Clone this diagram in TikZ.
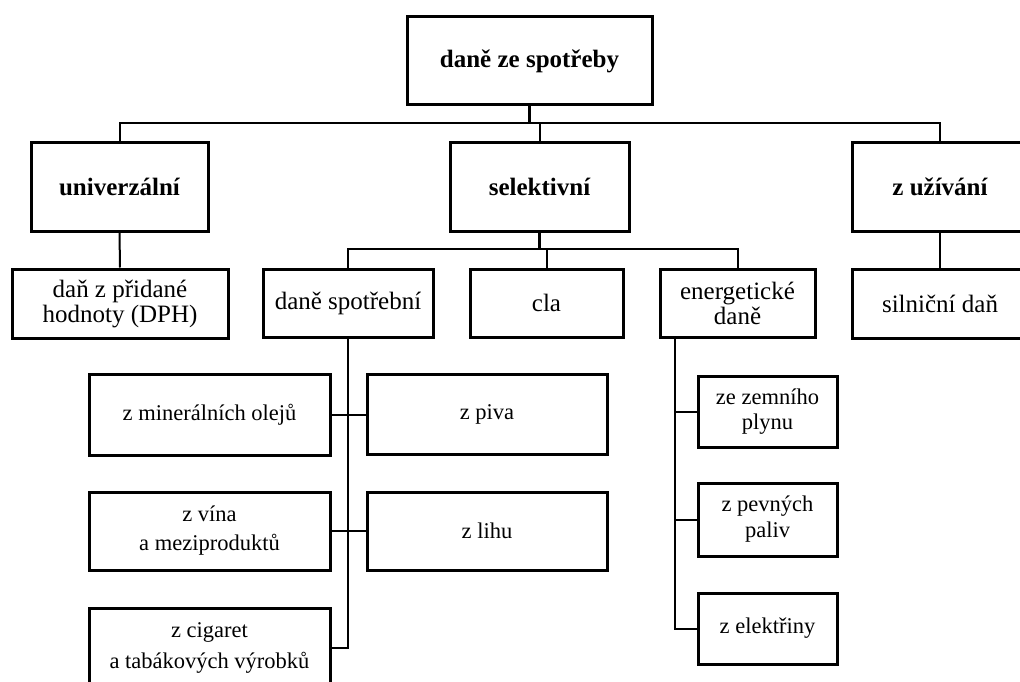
\documentclass[tikz,border=0pt]{standalone}
\usepackage{fontspec}
\setmainfont{Liberation Serif}
\begin{document}
\begin{tikzpicture}[x=1pt,y=-1pt,
  box/.style={draw=black,line width=3pt,fill=white,inner sep=0pt,align=center,
    font=\fontsize{22.5}{29}\selectfont},
  midbox/.style={box,font=\fontsize{25}{25}\selectfont},
  bbox/.style={box,font=\fontsize{25}{30}\selectfont\bfseries},
  conn/.style={draw=black,line width=2pt},
  stub/.style={draw=black,line width=3pt}]
\useasboundingbox (0,0) rectangle (1020,682);
\clip (0,0) rectangle (1020,682);
% level 0
\node[bbox,minimum width=245pt,minimum height=88pt] (top) at (529.5,61) {daně ze spotřeby};
% level 1
\node[bbox,minimum width=177pt,minimum height=88pt] (univ) at (119.5,187) {univerzální};
\node[bbox,minimum width=179pt,minimum height=88pt] (sel) at (539.5,187) {selektivní};
\node[bbox,minimum width=176pt,minimum height=88pt] (uziv) at (940,187) {z užívání};
% level 2
\node[midbox,minimum width=216pt,minimum height=69pt] (dph) at (120,303.5) {daň z přidané\\hodnoty (DPH)};
\node[midbox,minimum width=170pt,minimum height=68pt] (spot) at (348,303) {daně spotřební};
\node[midbox,minimum width=153pt,minimum height=68pt] (cla) at (546.5,303) {cla};
\node[midbox,minimum width=155pt,minimum height=68pt] (ener) at (737.5,303) {energetické\\daně};
\node[midbox,minimum width=176pt,minimum height=69pt] (siln) at (940,303.5) {silniční daň};
% level 3: spotrebni
\node[box,minimum width=241pt,minimum height=81pt] (olej) at (209.5,414.5) {z minerálních olejů};
\node[box,minimum width=241pt,minimum height=78pt] (vino) at (209.5,531) {z vína\\a meziproduktů};
\node[box,minimum width=241pt,minimum height=80pt,font=\fontsize{22.5}{31}\selectfont] (cig) at (209.5,648) {z cigaret\\a tabákových výrobků};
\node[box,minimum width=240pt,minimum height=80pt] (piva) at (487,414.5) {z piva};
\node[box,minimum width=240pt,minimum height=78pt] (lihu) at (487,531) {z lihu};
% level 3: energeticke
\node[box,minimum width=139pt,minimum height=71pt,font=\fontsize{22.5}{25}\selectfont] (zemni) at (767.5,411.5) {ze zemního\\plynu};
\node[box,minimum width=139pt,minimum height=73pt,font=\fontsize{22.5}{26}\selectfont] (pevne) at (767.5,519.5) {z pevných\\paliv};
\node[box,minimum width=139pt,minimum height=71pt] (elek) at (767.5,628.5) {z elektřiny};
% connectors level 0-1
\coordinate (h1) at (529.5,123);
\draw[stub] (top.south) -- (h1);
\draw[conn] (univ.north) -- (univ.north |- h1) -- (uziv.north |- h1) -- (uziv.north);
\draw[conn] (sel.north |- h1) -- (sel.north);
\draw[conn] (univ.south) -- (dph.north);
\draw[conn] (uziv.south) -- (siln.north);
% connectors selektivni
\coordinate (h2) at (539,249);
\draw[stub] (sel.south) -- (sel.south |- h2);
\draw[conn] (spot.north) -- (spot.north |- h2) -- (ener.north |- h2) -- (ener.north);
\draw[conn] (cla.north |- h2) -- (cla.north);
% spine spotrebni
\draw[conn] (spot.south) |- (cig.east);
\draw[conn] (olej.east) -- (piva.west);
\draw[conn] (vino.east) -- (lihu.west);
% spine energeticke
\coordinate (es) at (675,337);
\draw[conn] (es) |- (elek.west);
\draw[conn] (es |- zemni.west) -- (zemni.west);
\draw[conn] (es |- pevne.west) -- (pevne.west);
\end{tikzpicture}
\end{document}
